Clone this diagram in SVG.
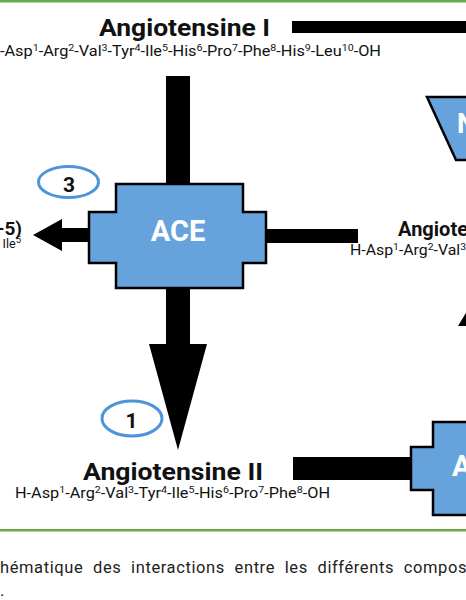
<svg xmlns="http://www.w3.org/2000/svg" width="466" height="600" viewBox="0 0 466 600">
<style>
.t{font-family:Roboto,"Liberation Sans",sans-serif;fill:#111}
.b{font-weight:bold}
.seq{font-size:14.5px}
.s{font-size:9.5px}
.enz{fill:#66a3dc;stroke:#000;stroke-width:2.5;stroke-linejoin:miter}
.enzt{font-family:Roboto,"Liberation Sans",sans-serif;font-weight:bold;fill:#fff}
.num{fill:none;stroke:#4f94d8;stroke-width:3}
.con{fill:#000}
.green{fill:#6bab4a}
.cap{font-family:Roboto,"Liberation Sans",sans-serif;font-size:16.5px;fill:#222;letter-spacing:0.6px;word-spacing:5px}
</style>
<rect class="green" x="0" y="0" width="466" height="2.5"/>
<rect class="green" x="0" y="529" width="466" height="2.5"/>

<g id="connectors">
<rect class="con" x="292" y="21" width="176" height="12"/>
<rect class="con" x="166" y="76" width="24" height="108"/>
<polygon class="con" points="89,228 62,228 62,219 33,235 62,251 62,242 89,242"/>
<rect class="con" x="266" y="229" width="92" height="14"/>
<polygon class="con" points="166,289 190,289 190,344 207,344 178,450 149,344 166,344"/>
<rect class="con" x="293" y="457" width="119" height="23"/>
<polygon class="con" points="458,326 467,311 467,326"/>
</g>

<g id="angiotensine-1">
<text class="t b" x="99" y="36" font-size="24" textLength="171" lengthAdjust="spacingAndGlyphs">Angiotensine I</text>
<text class="t seq" x="0" y="55.5" textLength="381" lengthAdjust="spacingAndGlyphs">-Asp<tspan class="s" dy="-5">1</tspan><tspan dy="5">-Arg</tspan><tspan class="s" dy="-5">2</tspan><tspan dy="5">-Val</tspan><tspan class="s" dy="-5">3</tspan><tspan dy="5">-Tyr</tspan><tspan class="s" dy="-5">4</tspan><tspan dy="5">-Ile</tspan><tspan class="s" dy="-5">5</tspan><tspan dy="5">-His</tspan><tspan class="s" dy="-5">6</tspan><tspan dy="5">-Pro</tspan><tspan class="s" dy="-5">7</tspan><tspan dy="5">-Phe</tspan><tspan class="s" dy="-5">8</tspan><tspan dy="5">-His</tspan><tspan class="s" dy="-5">9</tspan><tspan dy="5">-Leu</tspan><tspan class="s" dy="-5">10</tspan><tspan dy="5">-OH</tspan></text>
</g>

<g id="ace">
<path class="enz" d="M116,184 H243 V212 H266 V263 H243 V288 H116 V263 H89 V212 H116 Z"/>
<text class="enzt" x="178" y="241" font-size="29" text-anchor="middle">ACE</text>
</g>

<g id="nep">
<path class="enz" d="M470,97 H427 L456,160 H470"/>
<text class="enzt" x="457" y="133" font-size="27">N</text>
</g>

<g id="ace2">
<path class="enz" d="M470,422 H433 V447 H411 V490 H433 V515 H470"/>
<text class="enzt" x="452" y="476" font-size="29">A</text>
</g>

<g id="label-3">
<ellipse class="num" cx="68.5" cy="182" rx="30" ry="15.5"/>
<text class="t b" x="69" y="191.5" font-size="21" text-anchor="middle">3</text>
</g>

<g id="label-1">
<ellipse class="num" cx="132" cy="418.5" rx="30" ry="17.5"/>
<text class="t b" x="131.5" y="427.5" font-size="21" text-anchor="middle">1</text>
</g>

<g id="ang-1-5">
<text class="t b" x="22" y="235" font-size="19" text-anchor="end">-5)</text>
<text class="t" x="21" y="248" font-size="12.5" text-anchor="end">Ile<tspan class="s" dy="-5">5</tspan></text>
</g>

<g id="ang-1-9">
<text class="t b" x="398" y="235.5" font-size="20" textLength="70" lengthAdjust="spacingAndGlyphs">Angiote</text>
<text class="t seq" x="350" y="255" textLength="116" lengthAdjust="spacingAndGlyphs">H-Asp<tspan class="s" dy="-5">1</tspan><tspan dy="5">-Arg</tspan><tspan class="s" dy="-5">2</tspan><tspan dy="5">-Val</tspan><tspan class="s" dy="-5">3</tspan></text>
</g>

<g id="angiotensine-2">
<text class="t b" x="83" y="479.5" font-size="24" textLength="180" lengthAdjust="spacingAndGlyphs">Angiotensine II</text>
<text class="t seq" x="15" y="498" textLength="315" lengthAdjust="spacingAndGlyphs">H-Asp<tspan class="s" dy="-5">1</tspan><tspan dy="5">-Arg</tspan><tspan class="s" dy="-5">2</tspan><tspan dy="5">-Val</tspan><tspan class="s" dy="-5">3</tspan><tspan dy="5">-Tyr</tspan><tspan class="s" dy="-5">4</tspan><tspan dy="5">-Ile</tspan><tspan class="s" dy="-5">5</tspan><tspan dy="5">-His</tspan><tspan class="s" dy="-5">6</tspan><tspan dy="5">-Pro</tspan><tspan class="s" dy="-5">7</tspan><tspan dy="5">-Phe</tspan><tspan class="s" dy="-5">8</tspan><tspan dy="5">-OH</tspan></text>
</g>

<g id="caption">
<text class="cap" x="0" y="573">hématique des interactions entre les différents compos</text>
<text class="cap" x="0" y="596">.</text>
</g>
</svg>
